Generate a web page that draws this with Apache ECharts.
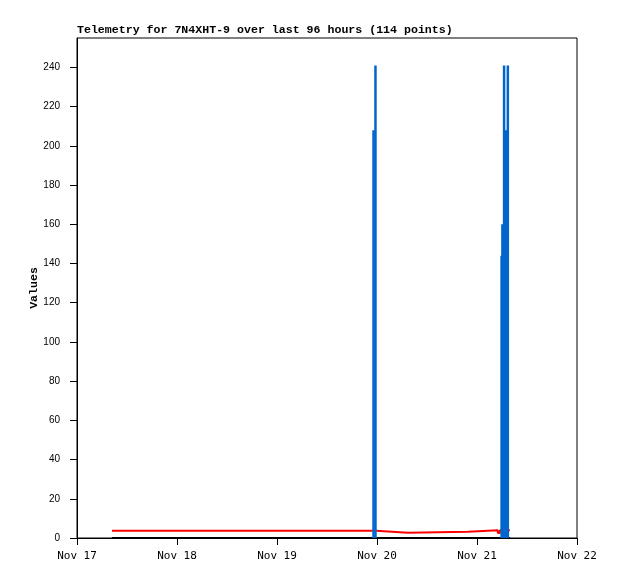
<!DOCTYPE html>
<html>
<head>
<meta charset="utf-8">
<script src="https://cdn.jsdelivr.net/npm/echarts@6/dist/echarts.min.js"></script>
<style>
html,body{margin:0;padding:0;background:#fff;}
#chart{width:618px;height:579px;}
</style>
</head>
<body>
<div id="chart"></div>
<script>
// ---- data ----
const titleText = "Telemetry for 7N4XHT-9 over last 96 hours (114 points)";
const xTickLabels = ["Nov 17", "Nov 18", "Nov 19", "Nov 20", "Nov 21", "Nov 22"];
const yTickValues = [0, 20, 40, 60, 80, 100, 120, 140, 160, 180, 200, 220, 240];

const blackTimes = ["11-17 08:24", "11-21 07:54"];
const blackValues = [0, 0];

// red channel: value holds from each time until the next one
const redTimes = ["11-17 08:24", "11-19 23:48", "11-20 07:24", "11-20 21:48", "11-21 05:00", "11-21 05:30", "11-21 07:54"];
const redValues = [3.7, 2.7, 3.2, 3.9, 2.6, 3.9, 3.9];

const blueTimes = ["11-19 23:10", "11-19 23:38", "11-21 05:54", "11-21 06:06", "11-21 06:30", "11-21 07:00", "11-21 07:24"];
const blueValues = [208, 241, 144, 160, 241, 208, 241];

// hours since Nov 17 00:00
function toHours(s) {
  const [md, hm] = s.split(" ");
  const day = parseInt(md.split("-")[1], 10);
  const [h, m] = hm.split(":").map(Number);
  return (day - 17) * 24 + h + m / 60;
}
function pairs(times, values) {
  return times.map((t, i) => [toHours(t), values[i]]);
}
function stepPairs(times, values) {
  const out = [];
  times.forEach((t, i) => {
    const x = toHours(t);
    if (i > 0) out.push([x, values[i - 1]]);
    out.push([x, values[i]]);
  });
  return out;
}

const chart = echarts.init(document.getElementById("chart"), null, { renderer: "canvas" });
const mono = "Liberation Mono, DejaVu Sans Mono, monospace";
chart.setOption({
  animation: false,
  backgroundColor: "#ffffff",
  title: {
    text: titleText,
    left: 77,
    top: 24,
    padding: 0,
    textStyle: { fontFamily: mono, fontWeight: "bold", fontSize: 11.6, color: "#000" }
  },
  grid: {
    left: 77, top: 38, right: 41, bottom: 41,
    show: true, borderColor: "#000", borderWidth: 1, backgroundColor: "transparent"
  },
  xAxis: {
    type: "value",
    min: 0, max: 120, interval: 24,
    axisLine: { show: true, lineStyle: { color: "#000", width: 1 } },
    axisTick: { show: true, length: 7, lineStyle: { color: "#000" } },
    axisLabel: {
      margin: 13,
      fontFamily: "DejaVu Sans Mono, monospace",
      fontSize: 11, color: "#000",
      formatter: v => xTickLabels[Math.round(v / 24)]
    },
    splitLine: { show: false }
  },
  yAxis: {
    type: "value",
    min: 0, max: 255,
    name: "Values",
    nameLocation: "middle",
    nameGap: 37,
    nameMoveOverlap: false,
    nameTextStyle: { fontFamily: mono, fontWeight: "bold", fontSize: 11.6, color: "#000" },
    axisLine: { show: true, lineStyle: { color: "#000", width: 1 } },
    axisTick: { show: true, length: 7, lineStyle: { color: "#000" }, customValues: yTickValues },
    axisLabel: {
      margin: 17,
      fontFamily: "Liberation Sans, Arial, sans-serif",
      fontSize: 10, color: "#000",
      customValues: yTickValues
    },
    splitLine: { show: false }
  },
  series: [
    {
      name: "black",
      type: "line",
      data: pairs(blackTimes, blackValues),
      symbol: "none",
      lineStyle: { color: "#000", width: 2 },
      z: 3
    },
    {
      name: "red",
      type: "line",
      data: stepPairs(redTimes, redValues),
      symbol: "none",
      lineStyle: { color: "#ff0000", width: 2 },
      z: 4
    },
    {
      name: "blue",
      type: "bar",
      data: pairs(blueTimes, blueValues),
      barWidth: 2.5,
      itemStyle: { color: "#0066cc" },
      z: 5
    }
  ]
});
</script>
</body>
</html>
